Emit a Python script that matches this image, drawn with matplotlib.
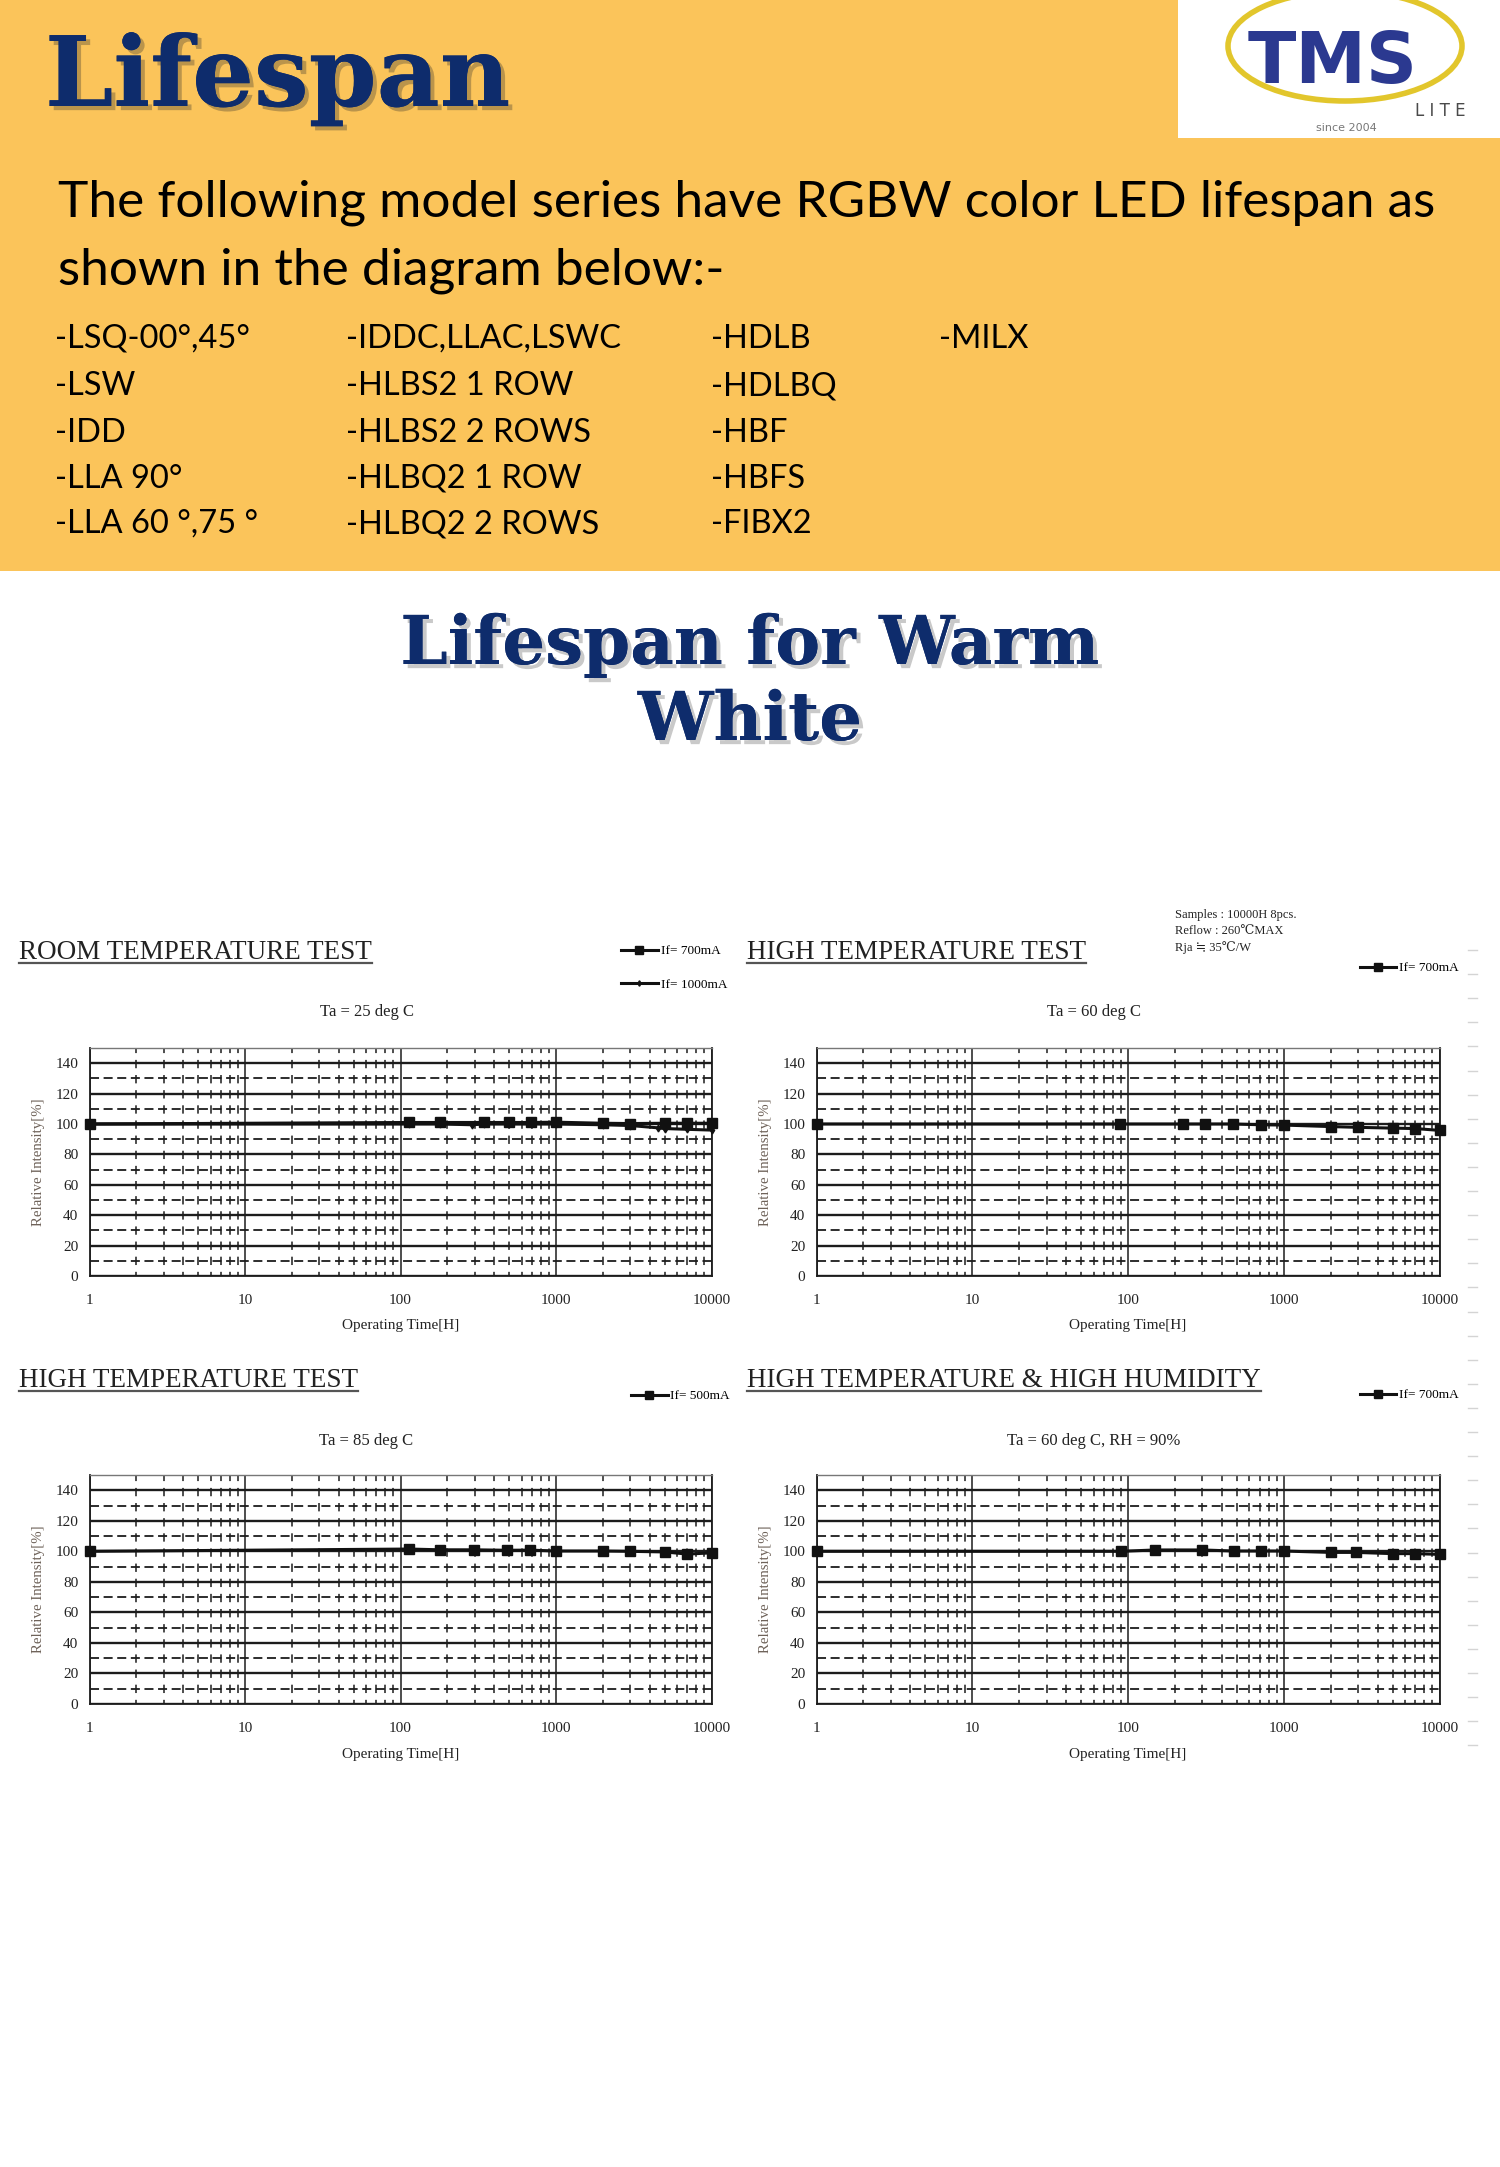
import numpy as np
import matplotlib
matplotlib.use("Agg")
import matplotlib.pyplot as plt
import matplotlib.patheffects as pe
from matplotlib.patches import Rectangle, Ellipse
from matplotlib.ticker import FixedLocator, NullFormatter, FixedFormatter

plt.rcParams['lines.scale_dashes'] = False
plt.rcParams['font.family'] = ['Liberation Serif', 'DejaVu Serif']

W, H = 1500, 2167

# ---------------- data ----------------
page_title = "Lifespan"
intro_lines = ["The following model series have RGBW color LED lifespan as",
               "shown in the diagram below:-"]
model_col1 = ["-LSQ-00°,45°", "-LSW", "-IDD", "-LLA 90°", "-LLA 60 °,75 °"]
model_col2 = ["-IDDC,LLAC,LSWC", "-HLBS2 1 ROW", "-HLBS2 2 ROWS", "-HLBQ2 1 ROW", "-HLBQ2 2 ROWS"]
model_col3 = ["-HDLB", "-HDLBQ", "-HBF", "-HBFS", "-FIBX2"]
model_col4 = ["-MILX"]
section_title = ["Lifespan for Warm", "White"]

x_ticks = [1, 10, 100, 1000, 10000]
x_tick_labels = ["1", "10", "100", "1000", "10000"]
y_ticks = [0, 20, 40, 60, 80, 100, 120, 140]
y_minor_ticks = [10, 30, 50, 70, 90, 110, 130]
x_label = "Operating Time[H]"
y_label = "Relative Intensity[%]"

room_title = "ROOM TEMPERATURE TEST"
room_cond = "Ta = 25 deg C"
room_x_700 = [1, 114, 180, 345, 500, 690, 1000, 2000, 3000, 5000, 7000, 10000]
room_y_700 = [100, 101, 101, 101, 101, 101, 101.2, 100.5, 100.3, 100.5, 100.5, 100.5]
room_x_1000 = [1, 114, 180, 290, 345, 500, 690, 1000, 2000, 3000, 4500, 5000, 7000, 10000]
room_y_1000 = [100, 100, 100, 99.5, 100, 100, 100, 100, 99.5, 99, 97.5, 97, 96.5, 96]

ht60_title = "HIGH TEMPERATURE TEST"
ht60_cond = "Ta = 60 deg C"
ht60_x = [1, 89, 225, 310, 470, 710, 1000, 2000, 3000, 5000, 7000, 10000]
ht60_y = [100, 100, 100, 100, 100, 99.5, 99.3, 98.3, 97.8, 97.3, 97.0, 95.8]
ht60_notes = ["Samples : 10000H 8pcs.", "Reflow : 260℃MAX", "Rja ≒ 35℃/W"]

ht85_title = "HIGH TEMPERATURE TEST"
ht85_cond = "Ta = 85 deg C"
ht85_x = [1, 114, 180, 296, 485, 682, 1000, 2000, 3000, 5000, 7000, 10000]
ht85_y = [100, 101.5, 101, 101, 100.7, 100.8, 100.2, 100.2, 100, 99.6, 98.2, 99]

hthh_title = "HIGH TEMPERATURE & HIGH HUMIDITY"
hthh_cond = "Ta = 60 deg C, RH = 90%"
hthh_x = [1, 90, 150, 300, 478, 710, 1000, 2000, 2900, 5000, 7000, 10000]
hthh_y = [100, 100, 100.9, 100.9, 100.2, 100.2, 100.2, 99.3, 99.3, 98.5, 98.5, 98]

# ---------------- figure ----------------
fig = plt.figure(figsize=(W / 100, H / 100), dpi=100)
fig.patch.set_facecolor('white')
bg = fig.add_axes([0, 0, 1, 1], zorder=0)
bg.set_xlim(0, W)
bg.set_ylim(H, 0)
bg.axis('off')

ORANGE = '#FBC45A'
NAVY = '#0E2C6C'
bg.add_patch(Rectangle((0, 0), W, 571, fc=ORANGE, ec='none'))

shadow = [pe.withSimplePatchShadow(offset=(3, -3), shadow_rgbFace='#6b5a3a', alpha=0.45), pe.Normal()]
shadow2 = [pe.withSimplePatchShadow(offset=(3, -3), shadow_rgbFace='#888888', alpha=0.45), pe.Normal()]

bg.text(45, 106, page_title, family='DejaVu Serif', weight='bold', fontsize=70,
        color=NAVY, ha='left', va='baseline', path_effects=shadow)

# logo
logo_box = Rectangle((1178, 0), 322, 138, fc='white', ec='none')
bg.add_patch(logo_box)
ell = Ellipse((1345, 46), 234, 110, fill=False, ec='#E2C62C', lw=4)
bg.add_patch(ell)
ell.set_clip_path(logo_box)
bg.text(1333, 83, "TMS", family='DejaVu Sans', weight='bold', fontsize=51,
        color='#2B3990', ha='center', va='baseline')
bg.text(1440, 116, "L I T E", family='DejaVu Sans', fontsize=12, color='#4a4a4a',
        ha='center', va='baseline')
bg.text(1346, 131, "since 2004", family='DejaVu Sans', fontsize=8, color='#777777',
        ha='center', va='baseline')

# intro text
for txt, yb in zip(intro_lines, [217, 284]):
    bg.text(58, yb, txt, family='Lato', fontsize=37, color='black', ha='left', va='baseline')

rows_y = [348, 395, 442, 488, 533]
for col, xc in zip([model_col1, model_col2, model_col3, model_col4], [55, 346, 711, 939]):
    for txt, yb in zip(col, rows_y):
        bg.text(xc, yb, txt, family='Lato', fontsize=23.5, color='black', ha='left', va='baseline')

for txt, yb in zip(section_title, [664, 740]):
    bg.text(750, yb, txt, family='DejaVu Serif', weight='bold', fontsize=48.5,
            color=NAVY, ha='center', va='baseline', path_effects=shadow2)

# decorative faint dashes at right edge
for yy in np.arange(950, 1750, 24.1):
    bg.plot([1468, 1477], [yy, yy], color='#d4d4d4', lw=1)

x_minor = [k * 10 ** d for d in range(4) for k in range(2, 10)]


def make_axes(left, right, top, bottom):
    ax = fig.add_axes([left / W, 1 - bottom / H, (right - left) / W, (bottom - top) / H], zorder=2)
    ax.set_facecolor('none')
    ax.set_xscale('log')
    ax.set_xlim(1, 10000)
    ax.set_ylim(0, 150)
    ax.xaxis.set_major_locator(FixedLocator(x_ticks))
    ax.xaxis.set_major_formatter(FixedFormatter(x_tick_labels))
    ax.xaxis.set_minor_locator(FixedLocator(x_minor))
    ax.xaxis.set_minor_formatter(NullFormatter())
    ax.yaxis.set_major_locator(FixedLocator(y_ticks))
    ax.yaxis.set_minor_locator(FixedLocator(y_minor_ticks))
    ax.yaxis.set_minor_formatter(NullFormatter())
    ax.tick_params(which='both', length=0, labelsize=11, colors='#222222')
    ax.tick_params(axis='x', pad=13)
    ax.tick_params(axis='y', pad=8)
    ax.set_axisbelow(True)
    ax.grid(True, which='major', axis='y', color='#1c1c1c', lw=1.7, ls='-')
    ax.grid(True, which='minor', axis='y', color='#1c1c1c', lw=1.3, ls=(0, (6.5, 3.3)))
    ax.grid(True, which='major', axis='x', color='#1c1c1c', lw=1.1, ls='-')
    ax.grid(True, which='minor', axis='x', color='#1c1c1c', lw=1.1, ls=(3.0, (6.0, 4.9)))
    for s in ['left', 'bottom', 'right']:
        ax.spines[s].set_color('#1c1c1c')
        ax.spines[s].set_linewidth(1.3)
    ax.spines['top'].set_color('#777777')
    ax.spines['top'].set_linewidth(1.0)
    ax.set_xlabel(x_label, fontsize=11, color='#222222')
    ax.xaxis.set_label_coords(0.5, -0.19)
    ax.set_ylabel(y_label, fontsize=10.7, color='#6E6259')
    ax.yaxis.set_label_coords(-0.071, 0.5)
    return ax


titles = []


def chart(left, right, top, bottom, title, cond, series, legend_xy, title_x, title_base, cond_y):
    ax = make_axes(left, right, top, bottom)
    handles = []
    for xs, ys, lab, mk, ms in series:
        h, = ax.plot(xs, ys, color='#111111', lw=2.2, marker=mk, ms=ms, zorder=3,
                     clip_on=False, label=lab)
        handles.append(h)
    ax.legend(handles=handles, loc='center left',
              bbox_to_anchor=(legend_xy[0] / W, 1 - legend_xy[1] / H),
              bbox_transform=fig.transFigure, frameon=False, fontsize=9.5,
              handlelength=2.8, handletextpad=0.2, borderpad=0, borderaxespad=0,
              labelspacing=1.6, markerscale=0.8)
    t = bg.text(title_x, title_base, title, fontsize=19.5,
                color='#222222', ha='left', va='baseline')
    titles.append((t, title_base + 4))
    bg.text((left + right) / 2 - 34, cond_y, cond, fontsize=12, color='#222222',
            ha='center', va='baseline')
    return ax


chart(89.5, 711.5, 1048, 1276, room_title, room_cond,
      [(room_x_700, room_y_700, "If= 700mA", 's', 6.5),
       (room_x_1000, room_y_1000, "If= 1000mA", 'd', 3.5)],
      (621, 968), 19, 959, 1016)
chart(816.6, 1439.5, 1048, 1276, ht60_title, ht60_cond,
      [(ht60_x, ht60_y, "If= 700mA", 's', 6.5)],
      (1359.5, 968), 747, 959, 1016)
chart(89.5, 711.5, 1475, 1704, ht85_title, ht85_cond,
      [(ht85_x, ht85_y, "If= 500mA", 's', 6.5)],
      (630.6, 1396), 19, 1387, 1445)
chart(816.6, 1439.5, 1475, 1704, hthh_title, hthh_cond,
      [(hthh_x, hthh_y, "If= 700mA", 's', 6.5)],
      (1359.5, 1395), 747, 1387, 1445)

for txt, yb in zip(ht60_notes, [918, 934, 951]):
    bg.text(1175, yb, txt, fontsize=9, color='#222222', ha='left', va='baseline',
            family=['Liberation Serif', 'DejaVu Serif', 'DejaVu Sans'])

# underline chart titles
fig.canvas.draw()
r = fig.canvas.get_renderer()
for t, uy in titles:
    bb = t.get_window_extent(r)
    bg.plot([bb.x0, bb.x1], [uy, uy], color='#555555', lw=1.6)

fig.savefig("out.png", dpi=100, facecolor='white')
